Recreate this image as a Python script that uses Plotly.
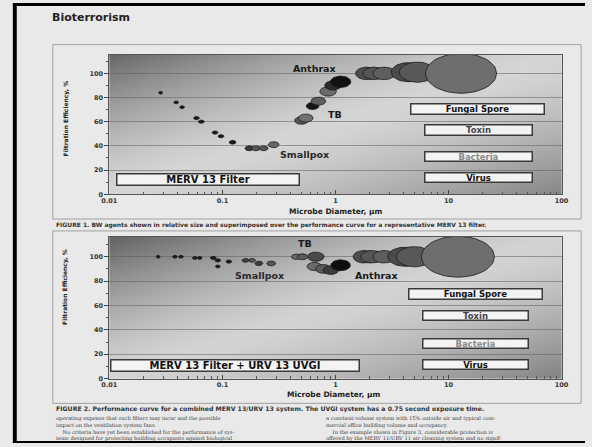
import base64
import struct
import zlib

import numpy as np
import plotly.graph_objects as go

# ---------------- data ----------------
X_TICKS = [0.01, 0.1, 1, 10, 100]
X_TICK_LABELS = ["0.01", "0.1", "1", "10", "100"]
Y_TICKS = [0, 20, 40, 60, 80, 100]

# Figure 1: MERV 13 filter
DIAM_TOP = [0.0284, 0.039, 0.044, 0.059, 0.065, 0.086, 0.097, 0.123, 0.173, 0.198, 0.232,
            0.284, 0.50, 0.546, 0.627, 0.706, 0.86, 0.95, 1.11, 1.89, 2.2, 2.7, 4.4, 5.3, 12.9]
EFF_TOP = [84, 76, 72, 63, 60, 51, 48, 43, 38, 38, 38, 41, 61, 63, 73, 77, 85, 90, 93,
           100, 100, 100, 101, 101, 100]
SIZE_TOP = [4, 5, 5, 6, 6, 6, 6, 7, 9, 9, 9, 11, 14, 15, 13, 15, 17, 17, 21, 23, 23, 23, 35, 37, 73]

# Figure 2: MERV 13 filter + URV 13 UVGI
DIAM_BOT = [0.027, 0.038, 0.043, 0.057, 0.063, 0.083, 0.091, 0.091, 0.114, 0.160, 0.183, 0.21,
            0.27, 0.45, 0.51, 0.67, 0.65, 0.78, 0.91, 1.11, 1.8, 2.1, 2.7, 4.1, 5.0, 12.1]
EFF_BOT = [100, 100, 100, 99, 99, 99, 97, 92, 96, 97, 97, 94.5, 94.5, 100, 100, 100, 92, 90,
           89, 93, 100, 100, 100, 100, 100, 100]
SIZE_BOT = [4, 5, 5, 5, 5, 6, 6, 5, 6, 7, 7, 8, 9, 10, 11, 17, 15, 16, 16, 20, 23, 23, 23, 35, 37, 75]

AGENT_LABELS_TOP = ["Anthrax", "TB", "Smallpox"]
AGENT_LABELS_BOT = ["TB", "Smallpox", "Anthrax"]
CLASS_LABELS = ["Fungal Spore", "Toxin", "Bacteria", "Virus"]
FILTER_TOP = "MERV 13 Filter"
FILTER_BOT = "MERV 13 Filter + URV 13 UVGI"

LEFT_LINES = ["operating expense that such filters may incur and the possible",
              "impact on the ventilation system fans.",
              "    No criteria have yet been established for the performance of sys-",
              "tems designed for protecting building occupants against biological"]
RIGHT_LINES = ["a constant-volume system with 15% outside air and typical com-",
               "mercial office building volume and occupancy.",
               "    In the example shown in Figure 3, considerable protection is",
               "offered by the MERV 11/URV 11 air cleaning system and no signif-"]

# ---------------- styles ----------------
FILL_TOP = ["#1a1a1a"] * 8 + ["#3a3a3a", "#5a5a5a", "#5a5a5a", "#666666", "#555555", "#707070",
                              "#151515", "#5e5e5e", "#6a6a6a", "#2a2a2a", "#111111", "#4d4d4d",
                              "#555555", "#5e5e5e", "#4a4a4a", "#585858", "#6e6e6e"]
FILL_BOT = ["#1a1a1a"] * 9 + ["#444444", "#555555", "#3a3a3a", "#555555", "#6a6a6a", "#5a5a5a",
                              "#4a4a4a", "#6a6a6a", "#5a5a5a", "#3c3c3c", "#0d0d0d", "#4d4d4d",
                              "#555555", "#5e5e5e", "#4a4a4a", "#585858", "#6e6e6e"]

W, H = 592, 447
PLOT_L, PLOT_R = 104, 568
TOP_T, TOP_B = 55, 196
BOT_T, BOT_B = 239, 382
TOP_YMAX = 115.6
BOT_YMAX = 116.3
PX_PER_DEC = (PLOT_R - PLOT_L) / 4.0


def px(x):
    return x / W


def py(y):
    return 1 - y / H


def png_uri(arr):
    h, w = arr.shape
    raw = b"".join(b"\x00" + arr[i].tobytes() for i in range(h))

    def chunk(tag, data):
        return (struct.pack(">I", len(data)) + tag + data +
                struct.pack(">I", zlib.crc32(tag + data) & 0xFFFFFFFF))

    png = (b"\x89PNG\r\n\x1a\n" +
           chunk(b"IHDR", struct.pack(">IIBBBBB", w, h, 8, 0, 0, 0, 0)) +
           chunk(b"IDAT", zlib.compress(raw, 9)) + chunk(b"IEND", b""))
    return "data:image/png;base64," + base64.b64encode(png).decode()


def gradient(w, h, dark_tl, light, dark_br):
    u = np.linspace(0, 1, w)[None, :]
    v = np.linspace(0, 1, h)[:, None]
    s = u + v
    val = np.where(s < 1, light - (light - dark_tl) * np.clip(1 - s, 0, 1) ** 1.4,
                   light - (light - dark_br) * np.clip(s - 1, 0, 1) ** 1.4)
    return np.clip(val, 0, 255).astype(np.uint8)


fig = go.Figure()


def add_bubbles(xs, ys, sizes, fills, yaxis, ypx):
    t = np.linspace(0, 2 * np.pi, 48)
    for xc, yc, w, col in zip(xs, ys, sizes, fills):
        h = max(0.55 * w, 3)
        dec = (w / 2) / PX_PER_DEC
        ex = 10 ** (np.log10(xc) + dec * np.cos(t))
        ey = yc + (h / 2) / ypx * np.sin(t)
        fig.add_trace(go.Scatter(
            x=ex, y=ey, mode="lines", fill="toself", fillcolor=col,
            line=dict(color="#1c1c1c", width=0.8),
            xaxis="x" if yaxis == "y" else "x2", yaxis=yaxis,
            hoverinfo="skip", showlegend=False))


add_bubbles(DIAM_TOP, EFF_TOP, SIZE_TOP, FILL_TOP, "y", (TOP_B - TOP_T) / TOP_YMAX)
add_bubbles(DIAM_BOT, EFF_BOT, SIZE_BOT, FILL_BOT, "y2", (BOT_B - BOT_T) / BOT_YMAX)

tickfont = dict(family="DejaVu Sans", size=6.5, color="#333333", weight="bold")
minor_x = [m * 10.0 ** e for e in range(-2, 2) for m in range(2, 10)]


def xaxis_cfg(anchor):
    return dict(type="log", range=[-2, 2], domain=[px(PLOT_L), px(PLOT_R)], anchor=anchor,
                tickvals=X_TICKS, ticktext=X_TICK_LABELS, ticks="inside", ticklen=4,
                tickcolor="#444", showgrid=False, showline=True, linecolor="#555",
                linewidth=1, mirror=True, zeroline=False, tickfont=tickfont,
                minor=dict(tickvals=minor_x, ticks="inside", ticklen=2.5, tickcolor="#555",
                           showgrid=False))


def yaxis_cfg(anchor, dom, ymax):
    return dict(range=[0, ymax], domain=dom, anchor=anchor, tickvals=Y_TICKS,
                ticks="outside", ticklen=4, tickcolor="#444", showgrid=True,
                gridcolor="rgba(95,95,95,0.55)", gridwidth=1, showline=True,
                linecolor="#555", linewidth=1, mirror=True, zeroline=False,
                tickfont=tickfont,
                minor=dict(dtick=10, ticks="outside", ticklen=2.5, tickcolor="#555",
                           showgrid=False))


images = [
    dict(source=png_uri(gradient(232, 70, 105, 214, 135)), xref="paper", yref="paper",
         x=px(PLOT_L), y=py(TOP_T), sizex=px(PLOT_R - PLOT_L), sizey=(TOP_B - TOP_T) / H,
         xanchor="left", yanchor="top", sizing="stretch", layer="below"),
    dict(source=png_uri(gradient(232, 70, 100, 212, 132)), xref="paper", yref="paper",
         x=px(PLOT_L), y=py(BOT_T), sizex=px(PLOT_R - PLOT_L), sizey=(BOT_B - BOT_T) / H,
         xanchor="left", yanchor="top", sizing="stretch", layer="below"),
]

shapes = [
    # chart frames
    dict(type="rect", xref="paper", yref="paper", x0=px(46), x1=px(588), y0=py(221), y1=py(45),
         line=dict(color="#a0a0a0", width=1), layer="below"),
    dict(type="rect", xref="paper", yref="paper", x0=px(46), x1=px(588), y0=py(407), y1=py(233),
         line=dict(color="#a0a0a0", width=1), layer="below"),
    # scan border
    dict(type="rect", xref="paper", yref="paper", x0=px(5), x1=px(9), y0=0, y1=py(3),
         fillcolor="black", line=dict(width=0)),
    dict(type="rect", xref="paper", yref="paper", x0=px(5), x1=1, y0=py(6), y1=py(3),
         fillcolor="black", line=dict(width=0)),
    dict(type="rect", xref="paper", yref="paper", x0=px(5), x1=1, y0=0, y1=py(445),
         fillcolor="black", line=dict(width=0)),
]

ann = []


def text(t, x, y, size, color="#1a1a1a", family="DejaVu Sans", weight="bold",
         xanchor="center", yanchor="middle", angle=0):
    ann.append(dict(text=t, x=px(x), y=py(y), xref="paper", yref="paper", showarrow=False,
                    xanchor=xanchor, yanchor=yanchor, textangle=angle, align="left",
                    borderpad=0,
                    font=dict(family=family, size=size, color=color, weight=weight)))


def box(t, cx, cy, w, h, size, color="#111111"):
    ann.append(dict(text=t, x=px(cx), y=py(cy), xref="paper", yref="paper", showarrow=False,
                    xanchor="center", yanchor="middle", width=w - 2, height=h - 2,
                    borderpad=0, borderwidth=1.5, bordercolor="#3a3a3a", bgcolor="#f3f3f3",
                    font=dict(family="DejaVu Sans", size=size, color=color, weight="bold")))


text("Bioterrorism", 44, 18, 11, color="#222222", xanchor="left")

# Figure 1 texts
text(AGENT_LABELS_TOP[0], 314, 69, 9.5)
text(AGENT_LABELS_TOP[1], 336, 116, 9.5)
text(AGENT_LABELS_TOP[2], 304, 156, 9.5, color="#2a2a2a")
box(CLASS_LABELS[0], 482, 109.5, 134, 11, 8.5)
box(CLASS_LABELS[1], 483, 131.5, 108, 11, 8.5, color="#444444")
box(CLASS_LABELS[2], 483, 158, 108, 10, 8.5, color="#8a8a8a")
box(CLASS_LABELS[3], 483, 179, 108, 10, 8.5)
box(FILTER_TOP, 205.5, 181, 183, 12, 10)
text("Microbe Diameter, µm", 336, 213, 7.5, color="#222222")
text("Filtration Efficiency, %", 59, 120, 6, color="#222222", angle=-90)
text("FIGURE 1. BW agents shown in relative size and superimposed over the performance "
     "curve for a representative MERV 13 filter.", 48, 227, 6, color="#333333",
     xanchor="left")

# Figure 2 texts
text(AGENT_LABELS_BOT[0], 305, 246, 9.5)
text(AGENT_LABELS_BOT[1], 258, 278, 9.5, color="#2a2a2a")
text(AGENT_LABELS_BOT[2], 378, 278, 9.5)
box(CLASS_LABELS[0], 480, 296.5, 134, 11, 8.5)
box(CLASS_LABELS[1], 480, 318, 106, 10, 8.5, color="#444444")
box(CLASS_LABELS[2], 480, 347, 106, 10, 8.5, color="#8a8a8a")
box(CLASS_LABELS[3], 480, 368, 106, 10, 8.5)
box(FILTER_BOT, 232.5, 369, 249, 12, 10)
text("Microbe Diameter, µm", 334, 398, 7.5, color="#222222")
text("Filtration Efficiency, %", 59, 290, 6, color="#222222", angle=-90)
text("FIGURE 2. Performance curve for a combined MERV 13/URV 13 system. The UVGI system "
     "has a 0.75 second exposure time.", 48, 412.5, 6.2, color="#333333", xanchor="left")

# body text, one block per column
text("<br>".join(LEFT_LINES), 48, 417.5, 5.2, color="#3a3a3a", family="DejaVu Serif",
     weight="normal", xanchor="left", yanchor="top")
text("<br>".join(RIGHT_LINES), 325, 417.5, 5.2, color="#3a3a3a", family="DejaVu Serif",
     weight="normal", xanchor="left", yanchor="top")

fig.update_layout(
    width=W, height=H, autosize=False, margin=dict(l=0, r=0, t=0, b=0, pad=0),
    paper_bgcolor="#e9e9e9", plot_bgcolor="rgba(0,0,0,0)", showlegend=False,
    xaxis=xaxis_cfg("y"), xaxis2=xaxis_cfg("y2"),
    yaxis=yaxis_cfg("x", [py(TOP_B), py(TOP_T)], TOP_YMAX),
    yaxis2=yaxis_cfg("x2", [py(BOT_B), py(BOT_T)], BOT_YMAX),
    images=images, shapes=shapes, annotations=ann,
)

fig.write_html("out.html", config=dict(displayModeBar=False, staticPlot=True))
